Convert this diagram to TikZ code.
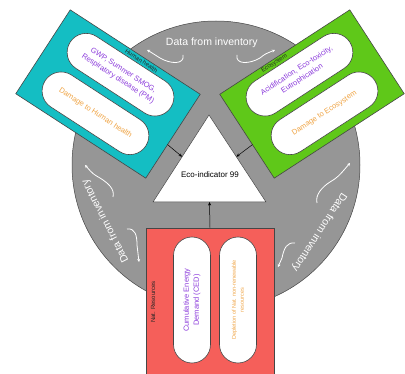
\documentclass[tikz,border=0pt]{standalone}
\usepackage{fontspec}
\setmainfont{Liberation Sans}
\usetikzlibrary{shapes.misc,arrows.meta,calc}

\definecolor{wheelgray}{RGB}{150,150,150}
\definecolor{hhcyan}{RGB}{20,190,195}
\definecolor{ecogreen}{RGB}{95,200,25}
\definecolor{resred}{RGB}{245,95,90}
\definecolor{midpurple}{RGB}{140,60,220}
\definecolor{endorange}{RGB}{240,165,70}
\definecolor{edgegray}{RGB}{70,70,70}

\begin{document}
\begin{tikzpicture}[x=1pt, y=1pt,
	catbox/.style={draw=edgegray, line width=0.6pt, minimum width=155pt, minimum height=100pt, inner sep=0pt},
	capsule/.style={rounded rectangle, draw=edgegray, fill=white, line width=0.6pt,
		minimum width=122pt, minimum height=38pt, align=center, inner sep=1pt,
		font=\fontsize{7.5}{10}\selectfont},
	midtext/.style={text=midpurple},
	endtext/.style={text=endorange},
	boxlabel/.style={font=\fontsize{6}{7}\selectfont, text=black!85},
	datalabel/.style={font=\fontsize{10.5}{12}\selectfont, text=white},
	flow/.style={draw=white, line width=0.8pt, -{Stealth[length=3pt,width=3pt]}},
	feed/.style={-{Stealth[length=3.5pt,width=3pt]}, line width=0.5pt, black}]

\clip (0,0) rectangle (405,373);

% grey wheel and the indicator in its middle
\node[circle, fill=wheelgray, draw=edgegray, line width=0.5pt, minimum size=288pt] (wheel) at (216,208) {};
\coordinate (apex) at (209,258);
\coordinate (baseL) at (153,171);
\coordinate (baseR) at (266,171);
\draw[fill=white, draw=edgegray, line width=0.5pt] (apex) -- (baseL) -- (baseR) -- cycle;
\node[font=\fontsize{8}{9}\selectfont] (eco) at (210,198) {Eco-indicator 99};

% Human health
\begin{scope}[shift={(108,279)}, rotate=-33, transform shape]
	\node[catbox, fill=hhcyan] (hh) at (0,0) {};
	\node[capsule, midtext] (hhmid) at (0,23) {GWP, Summer SMOG,\\Respiratory disease (PM)};
	\node[capsule, endtext] (hhend) at (0,-23) {Damage to Human health};
	\node[boxlabel] (hhlabel) at (10,46) {Human health};
	\coordinate (hhout) at (77.5,-10);
\end{scope}

% Ecosystem
\begin{scope}[shift={(312,279)}, rotate=33, transform shape]
	\node[catbox, fill=ecogreen] (es) at (0,0) {};
	\node[capsule, midtext] (esmid) at (0,23) {Acidification, Eco-toxicity,\\Eutrophication};
	\node[capsule, endtext] (esend) at (0,-23) {Damage to Ecosystem};
	\node[boxlabel] (eslabel) at (-15,46) {Ecosystem};
	\coordinate (esout) at (-77.5,-10);
\end{scope}

% Nat. Resources
\node[catbox, fill=resred, minimum width=128pt, minimum height=160pt] (nr) at (210,65) {};
\node[capsule, midtext, rotate=90, minimum width=128pt, minimum height=37pt] (nrmid) at (192,73) {Cumulative Energy\\Demand (CED)};
\node[capsule, endtext, rotate=90, minimum width=128pt, minimum height=37pt, font=\fontsize{5.5}{8}\selectfont] (nrend) at (238,73) {Depletion of Nat. non-renewable\\resources};
\node[boxlabel, rotate=90] (nrlabel) at (153,71) {Nat. Resources};

% feeds into the indicator
\coordinate (triL) at ($(baseL)!0.52!(apex)$);
\coordinate (triR) at ($(baseR)!0.52!(apex)$);
\coordinate (triB) at ($(baseL)!0.5!(baseR)$);
\draw[feed] (hhout) -- (triL);
\draw[feed] (esout) -- (triR);
\draw[feed] (nr.north) -- (triB);

% inventory labels round the wheel
\node[datalabel] (datatop) at ($(wheel.center)+(92:122)$) {Data from inventory};
\node[datalabel, rotate=117] (dataleft) at ($(wheel.center)+(207:124)$) {Data from inventory};
\node[datalabel, rotate=-123] (dataright) at ($(wheel.center)+(-33:123)$) {Data from inventory};

% white flow arrows
\draw[flow] (183,318) .. controls (185,308) and (170,309) .. (160,315) .. controls (155,319) .. (147,323);
\draw[flow] (237,318) .. controls (235,308) and (250,309) .. (260,315) .. controls (265,319) .. (275,323);
\draw[flow] (113,176) .. controls (115,184) and (108,190) .. (100,195) .. controls (93,199) .. (85,208);
\draw[flow] (127,144) .. controls (135,145) and (137,138) .. (137,128) -- (139,111);
\draw[flow] (317,170) .. controls (315,178) and (322,186) .. (330,191) .. controls (338,196) .. (350,210);
\draw[flow] (295,130) .. controls (287,131) and (284,125) .. (282,115) -- (278,106);

\end{tikzpicture}
\end{document}
